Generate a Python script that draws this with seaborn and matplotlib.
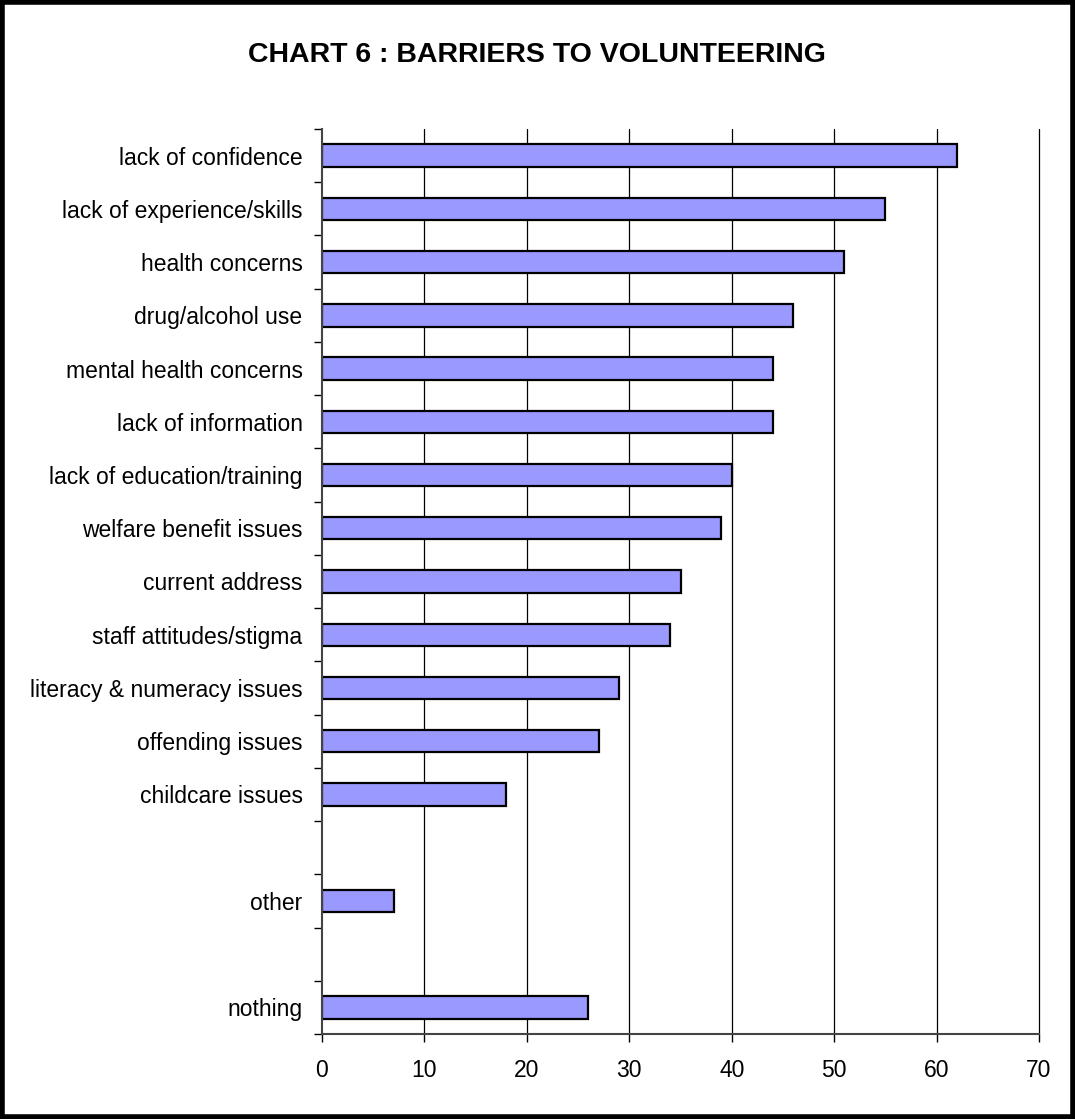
import matplotlib
matplotlib.use("Agg")
import matplotlib.pyplot as plt
import seaborn as sns
import pandas as pd
import numpy as np
from matplotlib.patches import Rectangle

categories = ["lack of confidence", "lack of experience/skills", "health concerns",
              "drug/alcohol use", "mental health concerns", "lack of information",
              "lack of education/training", "welfare benefit issues", "current address",
              "staff attitudes/stigma", "literacy & numeracy issues", "offending issues",
              "childcare issues", " ", "other", "  ", "nothing"]
values = [62, 55, 51, 46, 44, 44, 40, 39, 35, 34, 29, 27, 18, np.nan, 7, np.nan, 26]
x_ticks = [0, 10, 20, 30, 40, 50, 60, 70]
title = "CHART 6 : BARRIERS TO VOLUNTEERING"

sns.set_style("white")
plt.rcParams['font.family'] = ['Liberation Sans', 'DejaVu Sans']
plt.rcParams['text.color'] = 'black'
plt.rcParams['xtick.color'] = 'black'
plt.rcParams['ytick.color'] = 'black'

df = pd.DataFrame({"category": categories, "value": values})

fig = plt.figure(figsize=(10.75, 11.19), dpi=100)
ax = fig.add_axes([322/1075, 1-1034/1119, (1039-322)/1075, (1034-129)/1119])

sns.barplot(data=df, y="category", x="value", order=categories, orient="h",
            color="#9999FF", saturation=1, width=0.42, edgecolor="black",
            linewidth=1.6, ax=ax)

ax.set_xlim(0, 70)
ax.set_ylim(len(categories) - 0.5, -0.5)
ax.set_xticks(x_ticks)
ax.set_xticklabels([str(t) for t in x_ticks], fontsize=16.5)
ax.set_yticks(range(len(categories)))
ax.set_yticklabels(categories, fontsize=16.5)
ax.tick_params(axis='y', which='major', left=True, length=0, pad=14, labelcolor='black')
ax.set_yticks(np.arange(-0.5, len(categories), 1.0), minor=True)
ax.tick_params(axis='y', which='minor', left=True, length=6, width=1, color='black', direction='out')
ax.tick_params(axis='x', which='major', bottom=True, length=6, width=1, color='black',
               direction='out', pad=12, labelcolor='black')
ax.set_xlabel("")
ax.set_ylabel("")
ax.set_axisbelow(True)
ax.grid(False)
for t in x_ticks[1:]:
    ax.axvline(t, color='black', linewidth=0.9, zorder=0, clip_on=False)

for s in ['top', 'right']:
    ax.spines[s].set_visible(False)
for s in ['left', 'bottom']:
    ax.spines[s].set_color('#444444')
    ax.spines[s].set_linewidth(1.5)

fig.text(537/1075, 1-55/1119, title, ha='center', va='center', fontsize=20.5,
         fontweight='bold', color='black',
         family=['Liberation Sans Narrow', 'Liberation Sans', 'DejaVu Sans'])

fig.patches.append(Rectangle((0.002, 0.002), 0.996, 0.996, transform=fig.transFigure,
                             fill=False, edgecolor='black', linewidth=4))

fig.savefig("out.png", dpi=100, facecolor='white')
